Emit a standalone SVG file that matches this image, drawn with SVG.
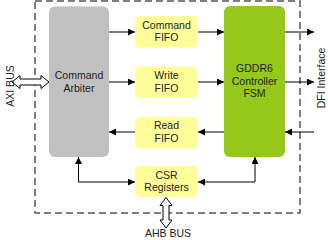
<svg xmlns="http://www.w3.org/2000/svg" width="328" height="240" viewBox="0 0 328 240">
<style>
text{font-family:"Liberation Sans",Arial,sans-serif;font-size:10.5px;fill:#222;text-anchor:middle}
.fifo{fill:#ffff99}
.ln{fill:none;stroke:#000;stroke-width:1}
.bus{fill:#fff;stroke:#000;stroke-width:1}
</style>
<defs>
<marker id="ah" markerUnits="userSpaceOnUse" markerWidth="7" markerHeight="7" refX="7" refY="3.5" orient="auto-start-reverse">
<path d="M0,0 L7,3.5 L0,7 Z" fill="#000"/>
</marker>
</defs>
<rect id="boundary" x="35" y="1" width="265" height="212" fill="none" stroke="#555" stroke-width="1.5" stroke-dasharray="7 4"/>
<g id="arbiter">
<rect x="49" y="6.5" width="60" height="150.5" rx="6" fill="#c0c0c0"/>
<text x="79" y="79">Command</text>
<text x="79" y="91.7">Arbiter</text>
</g>
<g id="fsm">
<rect x="224" y="6" width="61" height="151" rx="6" fill="#94c81a"/>
<text x="254.5" y="72.3">GDDR6</text>
<text x="254.5" y="84.8">Controller</text>
<text x="254.5" y="97.2">FSM</text>
</g>
<g id="cmdfifo">
<rect class="fifo" x="135" y="16" width="63" height="31.5" rx="5"/>
<text x="166.5" y="28.5">Command</text>
<text x="166.5" y="41">FIFO</text>
</g>
<g id="wrfifo">
<rect class="fifo" x="135" y="66.5" width="63" height="31.5" rx="5"/>
<text x="166.5" y="79">Write</text>
<text x="166.5" y="91.5">FIFO</text>
</g>
<g id="rdfifo">
<rect class="fifo" x="135" y="117" width="63" height="31.5" rx="5"/>
<text x="166.5" y="129.3">Read</text>
<text x="166.5" y="141.8">FIFO</text>
</g>
<g id="csr">
<rect class="fifo" x="135" y="166" width="63" height="31" rx="5"/>
<text x="166.5" y="178.5">CSR</text>
<text x="166.5" y="191">Registers</text>
</g>
<g id="connectors">
<path class="ln" d="M109,32 H135" marker-end="url(#ah)"/>
<path class="ln" d="M198,32 H224" marker-end="url(#ah)"/>
<path class="ln" d="M109,82 H135" marker-end="url(#ah)"/>
<path class="ln" d="M198,82 H224" marker-end="url(#ah)"/>
<path class="ln" d="M224,132 H198" marker-end="url(#ah)"/>
<path class="ln" d="M135,132 H109" marker-end="url(#ah)"/>
<path class="ln" d="M285,32 H314" marker-end="url(#ah)"/>
<path class="ln" d="M285,82 H314" marker-end="url(#ah)"/>
<path class="ln" d="M314,132 H285" marker-end="url(#ah)"/>
<path class="ln" d="M135,182 H78.5 V157" marker-start="url(#ah)" marker-end="url(#ah)"/>
<path class="ln" d="M198,182 H255 V157" marker-start="url(#ah)" marker-end="url(#ah)"/>
<path class="bus" d="M12,82 L20,75.5 L20,79 L41,79 L41,75.5 L49,82 L41,88.5 L41,85 L20,85 L20,88.5 Z"/>
<path class="bus" d="M166,197.5 L172,205.5 L169,205.5 L169,220 L172,220 L166,228 L160,220 L163,220 L163,205.5 L160,205.5 Z"/>
</g>
<g id="labels">
<text transform="translate(13.5,86) rotate(-90)">AXI BUS</text>
<text transform="translate(324.5,78) rotate(-90)">DFI Interface</text>
<text x="168" y="236.5">AHB BUS</text>
</g>
</svg>
